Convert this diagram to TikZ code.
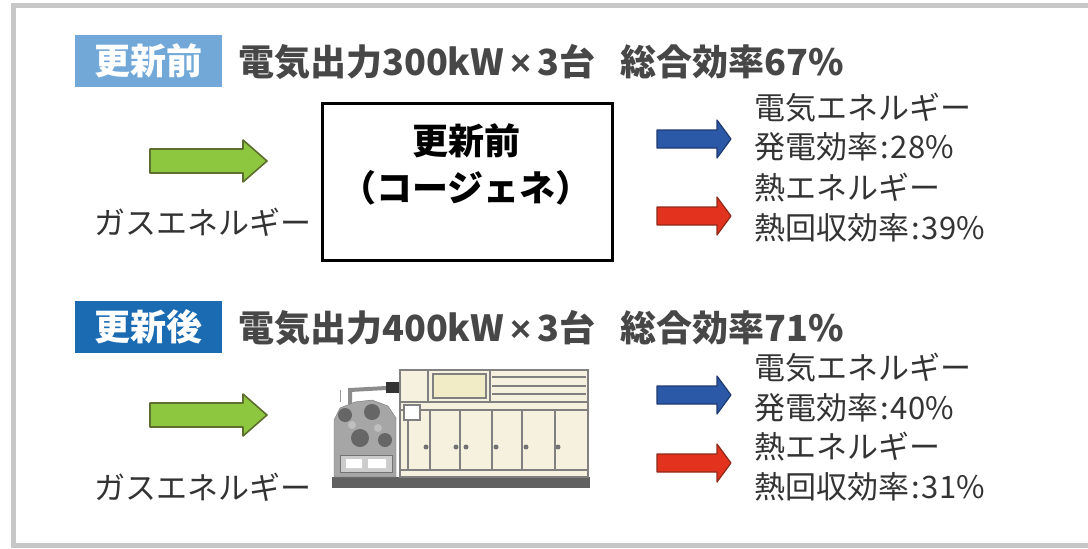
\documentclass[tikz,border=0pt]{standalone}
\usepackage{fontspec}
\setmainfont{Noto Sans CJK JP}
\newfontfamily\latinsans{Liberation Sans}
\newcommand\timesign{{\latinsans\bfseries\,×\,}}
\newcommand\colonsep{\hspace{2pt}:\hspace{2pt}}
\begin{document}
\begin{tikzpicture}[x=1pt,y=-1pt,
  txt/.style={anchor=west,inner sep=0pt,text=black!80,font=\fontsize{31}{33}\selectfont},
  ttl/.style={anchor=west,inner sep=0pt,text=black!72,font=\bfseries\fontsize{36}{38}\selectfont},
  badge/.style={minimum width=147pt,minimum height=52pt,inner sep=0pt,text=white,font=\bfseries\fontsize{36}{38}\selectfont},
  boxtxt/.style={inner sep=0pt,text=black,font=\bfseries\fontsize{36}{38}\selectfont},
  greenarrow/.style={fill=arrowgreen,draw=arrowgreenline,line width=1.6pt,line join=round},
  bluearrow/.style={fill=arrowblue,draw=arrowblueline,line width=1.2pt,line join=round},
  redarrow/.style={fill=arrowred,draw=arrowredline,line width=1.2pt,line join=round},
  mach/.style={draw=black!50,line width=1.2pt}
]
\definecolor{lightbadge}{HTML}{72A8D8}
\definecolor{darkbadge}{HTML}{1A6BB2}
\definecolor{cabinet}{HTML}{F6F1DE}
\definecolor{panel}{HTML}{F2ECC6}
\definecolor{arrowgreen}{HTML}{8DC63F}
\definecolor{arrowgreenline}{HTML}{5E6E2E}
\definecolor{arrowblue}{HTML}{2C58A8}
\definecolor{arrowblueline}{HTML}{1E3A70}
\definecolor{arrowred}{HTML}{E3321E}
\definecolor{arrowredline}{HTML}{8E2A18}
% canvas and outer frame
\useasboundingbox (0,0) rectangle (1088,549);
\fill[white] (0,0) rectangle (1088,549);
\draw[black!22,line width=5pt] (13,5) rectangle (1100,545);

% block arrow: style, left x, tip x, centre y, shaft half, head half, head length
\newcommand\blockarrow[7]{%
  \filldraw[#1] (#2,#4-#5) -- (#3-#7,#4-#5) -- (#3-#7,#4-#6) -- (#3,#4)
    -- (#3-#7,#4+#6) -- (#3-#7,#4+#5) -- (#2,#4+#5) -- cycle;}

% ---------- upper section: before renewal ----------
\node[badge,fill=lightbadge] (b1) at (148,61) {更新前};
\node[ttl] (t1a) at (238,62) {電気出力300kW\timesign 3台};
\node[ttl] (t1b) at (620,62) {総合効率67\%};

\blockarrow{greenarrow}{150}{267}{161}{12}{21}{24}
\node[txt] (g1) at (94,222) {ガスエネルギー};

\node[draw=black,line width=3pt,minimum width=290pt,minimum height=157pt,inner sep=0pt] (cg) at (467,181.5) {};
\node[boxtxt] (cg1) at (466,141) {更新前};
\node[boxtxt] (cg2) at (466,188) {（コージェネ）};

\blockarrow{bluearrow}{657}{731}{139}{9}{19}{14}
\node[txt] (e1a) at (754,108) {電気エネルギー};
\node[txt] (e1b) at (754,147) {発電効率\colonsep 28\%};
\blockarrow{redarrow}{657}{731}{216}{9}{19}{14}
\node[txt] (h1a) at (754,188) {熱エネルギー};
\node[txt] (h1b) at (754,228) {熱回収効率\colonsep 39\%};

% ---------- lower section: after renewal ----------
\node[badge,fill=darkbadge] (b2) at (148,327) {更新後};
\node[ttl] (t2a) at (238,328) {電気出力400kW\timesign 3台};
\node[ttl] (t2b) at (620,328) {総合効率71\%};

\blockarrow{greenarrow}{150}{267}{415}{12}{21}{24}
\node[txt] (g2) at (94,487) {ガスエネルギー};

% generator package
\fill[black!62] (332,477) rectangle (590,488);
\filldraw[mach,fill=cabinet] (400,370) rectangle (588,477);
\draw[mach] (400,402) -- (588,402);
\draw[mach] (428,370) -- (428,402);
\draw[mach] (490,370) -- (490,402);
\filldraw[mach,fill=panel] (433,374) rectangle (486,398);
\draw[mach] (492,377) -- (586,377) (492,386) -- (586,386) (492,394) -- (586,394);
\draw[mach] (400,410) -- (588,410);
\foreach \x in {408,430,460,492,522,555}
  \draw[mach] (\x,410) -- (\x,470);
\draw[mach] (400,470) -- (588,470);
\filldraw[mach,fill=white] (404,405) rectangle (420,420);
\foreach \x in {426,456,466,496,526,558}
  \fill[black!55] (\x,447) circle (2.5pt);
% engine on the left of the package
\filldraw[black!55,fill=black!35] (334,477) -- (334,420) -- (340,408) -- (355,402)
  -- (372,400) -- (388,406) -- (396,418) -- (396,477) -- cycle;
\fill[black!60] (345,415) circle (7pt) (372,412) circle (8pt) (360,438) circle (9pt) (385,440) circle (7pt);
\fill[black!25] (352,425) circle (4pt) (378,428) circle (4pt);
\filldraw[black!55,fill=black!20] (340,455) rectangle (392,472);
\fill[white] (346,459) rectangle (362,468) (368,459) rectangle (386,468);
\draw[black!45,line width=4pt] (350,404) -- (350,390) -- (386,388);
\draw[black!40,line width=1pt] (340,390) -- (340,402);
\fill[black!80] (386,382) rectangle (399,393);

\blockarrow{bluearrow}{657}{731}{395}{9}{19}{14}
\node[txt] (e2a) at (754,368) {電気エネルギー};
\node[txt] (e2b) at (754,408) {発電効率\colonsep 40\%};
\blockarrow{redarrow}{657}{731}{463}{9}{19}{14}
\node[txt] (h2a) at (754,447) {熱エネルギー};
\node[txt] (h2b) at (754,487) {熱回収効率\colonsep 31\%};
\end{tikzpicture}
\end{document}
